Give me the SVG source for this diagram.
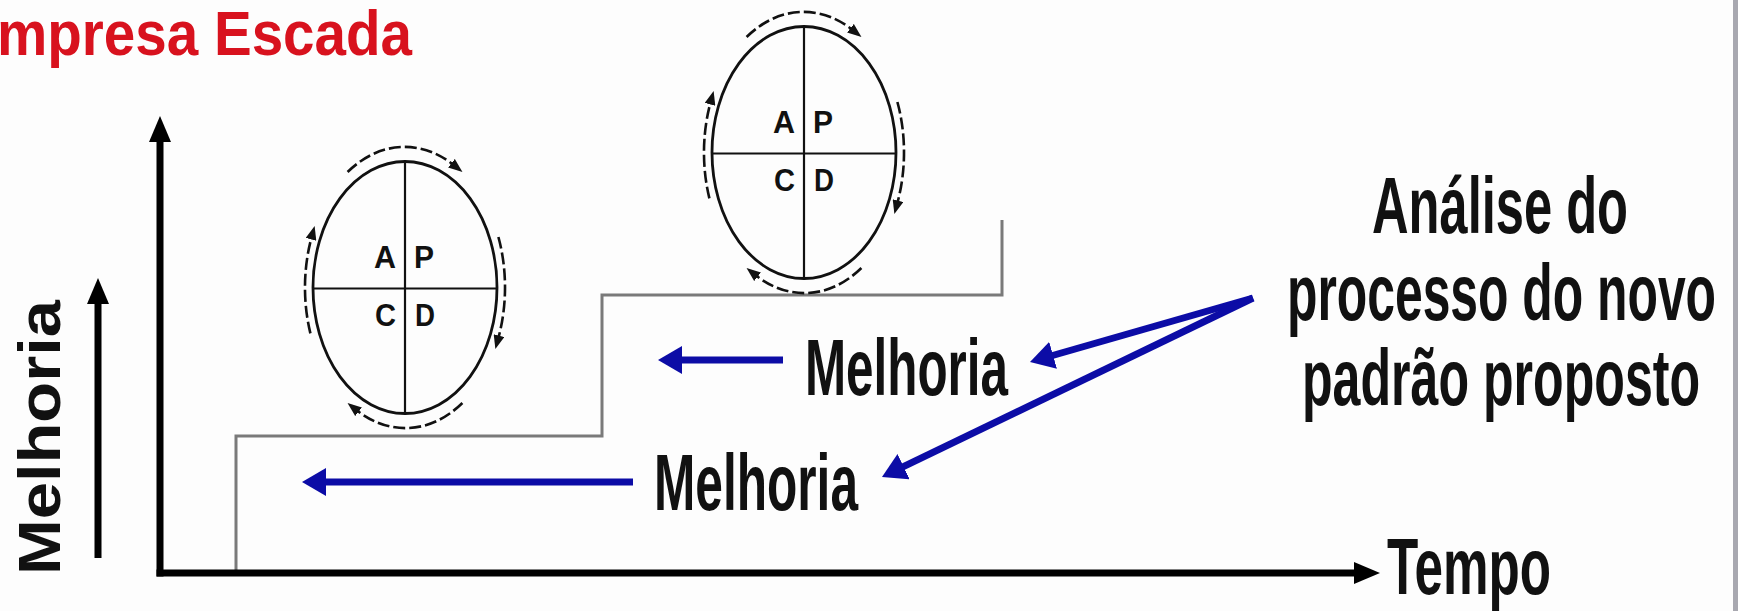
<svg xmlns="http://www.w3.org/2000/svg" xmlns:xlink="http://www.w3.org/1999/xlink" width="1738" height="611" viewBox="0 0 1738 611">
  <style>
    .lbl { font-family: "Liberation Sans Narrow", "Liberation Sans", Arial, sans-serif; font-weight: bold; fill: #111; }
    .big { font-size: 80px; }
    .title { font-family: "Liberation Sans", Arial, sans-serif; font-weight: bold; font-size: 63px; fill: #d8121e; }
    .axis { stroke: #000; stroke-width: 7; fill: none; }
    .step { stroke: #7a7a7a; stroke-width: 3; fill: none; }
    .blue { stroke: #0c0ca6; stroke-width: 7; fill: none; marker-end: url(#ab); }
    .ring { stroke: #111; stroke-width: 2.8; fill: none; }
    .cross { stroke: #111; stroke-width: 2.2; }
    .arc { stroke: #111; stroke-width: 2.6; fill: none; stroke-dasharray: 12 4; marker-end: url(#sm); }
    .pd { font-family: "Liberation Sans", Arial, sans-serif; font-weight: bold; font-size: 32px; fill: #111; }
  </style>
  <defs>
    <marker id="ab" markerUnits="userSpaceOnUse" markerWidth="24" markerHeight="28" viewBox="0 0 24 28" refX="6" refY="14" orient="auto">
      <path d="M0,0 L24,14 L0,28 z" fill="#0c0ca6"/>
    </marker>
    <marker id="bk" markerUnits="userSpaceOnUse" markerWidth="26" markerHeight="22" viewBox="0 0 26 22" refX="4" refY="11" orient="auto">
      <path d="M0,0 L26,11 L0,22 z" fill="#000"/>
    </marker>
    <marker id="sm" markerUnits="userSpaceOnUse" markerWidth="14" markerHeight="11" viewBox="0 0 14 11" refX="2" refY="5.5" orient="auto">
      <path d="M0,0 L14,5.5 L0,11 z" fill="#111"/>
    </marker>
    <g id="pdca">
      <ellipse class="ring" cx="0" cy="0" rx="92" ry="126"/>
      <line class="cross" x1="0" y1="-126" x2="0" y2="126"/>
      <line class="cross" x1="-92" y1="1" x2="92" y2="1" stroke-width="2.6"/>
      <text class="pd" x="-31" y="-20" textLength="22" lengthAdjust="spacingAndGlyphs">A</text>
      <text class="pd" x="9" y="-20" textLength="20" lengthAdjust="spacingAndGlyphs">P</text>
      <text class="pd" x="-30" y="38" textLength="21" lengthAdjust="spacingAndGlyphs">C</text>
      <text class="pd" x="10" y="38" textLength="20" lengthAdjust="spacingAndGlyphs">D</text>
      <path class="arc" d="M-57.4,-115.5 A100,141 0 0 1 48,-123"/>
      <path class="arc" d="M93.4,-50.5 A100,141 0 0 1 93.5,50"/>
      <path class="arc" d="M57.4,115.5 A100,141 0 0 1 -48,123"/>
      <path class="arc" d="M-94.6,45.9 A100,141 0 0 1 -93.5,-50"/>
    </g>
  </defs>

  <rect x="0" y="0" width="1738" height="611" fill="#fdfdfd"/>
  <rect x="1733" y="0" width="5" height="611" fill="#a8a8b0"/>

  <g id="title">
    <text class="title" x="-3" y="55" textLength="415" lengthAdjust="spacingAndGlyphs">mpresa Escada</text>
  </g>

  <g id="steps">
    <path class="step" d="M236,572 L236,436 L602,436 L602,295 L1002,295 L1002,220"/>
  </g>

  <g id="pdca1" transform="translate(405,287.5)">
    <use xlink:href="#pdca" href="#pdca"/>
  </g>
  <g id="pdca2" transform="translate(804,152.5)">
    <use xlink:href="#pdca" href="#pdca"/>
  </g>

  <g id="axes">
    <path class="axis" d="M160,576.5 L160,138" marker-end="url(#bk)"/>
    <path class="axis" d="M156.5,573 L1358,573" marker-end="url(#bk)"/>
  </g>

  <g id="y-label">
    <path class="axis" d="M98,558 L98,300" stroke-width="6" marker-end="url(#bk)"/>
    <text class="lbl big" transform="translate(60,575) scale(0.73,1) rotate(-90)" x="0" y="0" textLength="275" lengthAdjust="spacingAndGlyphs">Melhoria</text>
  </g>

  <g id="x-label">
    <text class="lbl big" x="1387" y="594" textLength="164" lengthAdjust="spacingAndGlyphs">Tempo</text>
  </g>

  <g id="melhoria-upper">
    <text class="lbl big" x="805" y="395" textLength="203" lengthAdjust="spacingAndGlyphs">Melhoria</text>
  </g>
  <g id="melhoria-lower">
    <text class="lbl big" x="654" y="510" textLength="204" lengthAdjust="spacingAndGlyphs">Melhoria</text>
  </g>

  <g id="analise">
    <text class="lbl big" transform="translate(1372,233) scale(0.62,1)" x="0" y="0" textLength="413" lengthAdjust="spacingAndGlyphs">Análise do</text>
    <text class="lbl big" transform="translate(1287,320) scale(0.62,1)" x="0" y="0" textLength="692" lengthAdjust="spacingAndGlyphs">processo do novo</text>
    <text class="lbl big" transform="translate(1302,405) scale(0.62,1)" x="0" y="0" textLength="642" lengthAdjust="spacingAndGlyphs">padrão proposto</text>
  </g>

  <g id="connectors">
    <path class="blue" d="M633,482 L320,482"/>
    <path class="blue" d="M783,360 L676,360"/>
    <path class="blue" d="M1253,298 L1047.3,357"/>
    <path class="blue" d="M1253,298 L898.2,469.2"/>
  </g>
</svg>
